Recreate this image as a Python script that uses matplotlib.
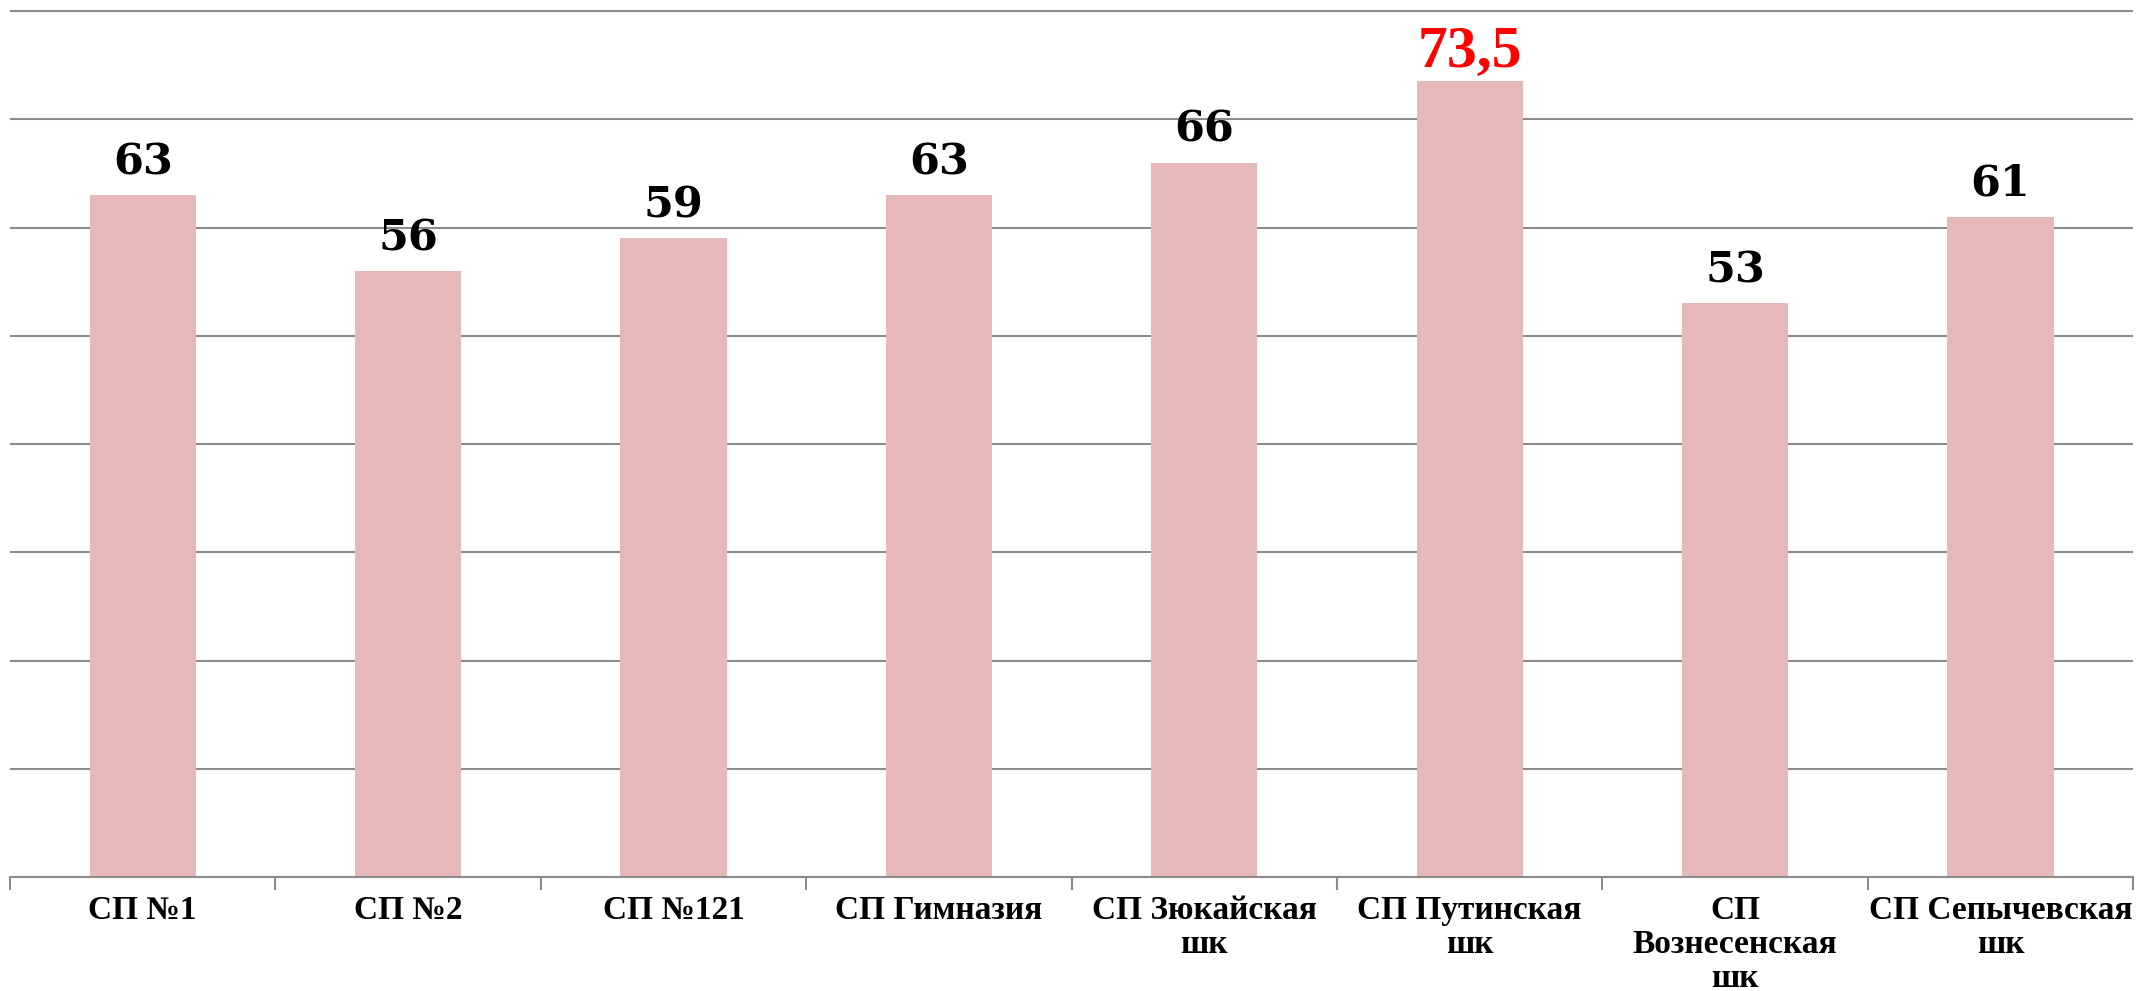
import matplotlib.pyplot as plt

categories = ["СП №1", "СП №2", "СП №121", "СП Гимназия", "СП Зюкайская\nшк",
              "СП Путинская\nшк", "СП\nВознесенская\nшк", "СП Сепычевская\nшк"]
values = [63, 56, 59, 63, 66, 73.5, 53, 61]
labels = ["63", "56", "59", "63", "66", "73,5", "53", "61"]
label_colors = ["black", "black", "black", "black", "black", "red", "black", "black"]

fig = plt.figure(figsize=(21.37, 9.91), dpi=100)
ax = fig.add_axes([0.0047, 0.115, 0.9935, 0.8793])

x = list(range(1, len(values) + 1))
ax.bar(x, values, width=0.4, color="#E6B8B7", zorder=2)

for xi, v, lab, col in zip(x, values, labels, label_colors):
    if col == "red":
        ax.annotate(lab, (xi, v), xytext=(0, 11), textcoords="offset points",
                    ha="center", va="baseline", fontsize=43, fontweight="bold",
                    color=col, family="Liberation Serif")
    else:
        ax.annotate(lab, (xi, v), xytext=(0, 15), textcoords="offset points",
                    ha="center", va="baseline", fontsize=31, fontweight="bold",
                    color=col, family="DejaVu Serif")

ax.set_xlim(0.5, len(values) + 0.5)
ax.set_ylim(0, 80.5)
ax.set_yticks(range(0, 81, 10))
ax.set_yticklabels([])
ax.tick_params(axis="y", length=0)
ax.yaxis.grid(True, color="#8c8c8c", linewidth=1.5, zorder=0)
ax.set_axisbelow(True)

ax.set_xticks(x)
ax.set_xticklabels(categories, fontsize=24, fontweight="bold",
                   family="Liberation Serif", linespacing=1.12)
ax.tick_params(axis="x", length=0, pad=13)
ax.set_xticks([i + 0.5 for i in range(0, len(values) + 1)], minor=True)
ax.tick_params(axis="x", which="minor", length=9, width=1.5, color="#8c8c8c")

for s in ["left", "right", "top"]:
    ax.spines[s].set_visible(False)
ax.spines["bottom"].set_color("#8c8c8c")
ax.spines["bottom"].set_linewidth(1.5)

fig.savefig("out.png", dpi=100)
